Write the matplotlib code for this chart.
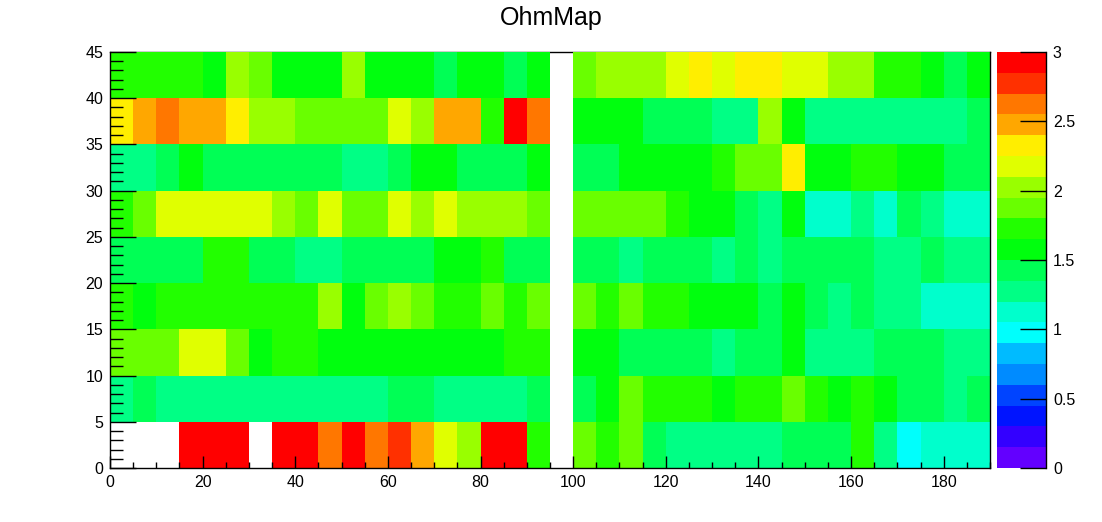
import colorsys
import numpy as np
import matplotlib.pyplot as plt
from matplotlib.colors import ListedColormap, BoundaryNorm
from matplotlib.ticker import MultipleLocator, FuncFormatter

plt.rcParams['font.family'] = ['Liberation Sans', 'DejaVu Sans']

# bin edges
x_edges = np.arange(0, 195, 5)
y_edges = np.arange(0, 50, 5)

n = np.nan
# one list per y row, from y=0 upwards, 38 x bins each
row_0_5 = [n, n, n, 2.92, 2.92, 2.92, n, 2.92, 2.92, 2.62, 2.92, 2.62, 2.77, 2.47, 2.17, 2.02, 2.92, 2.92, 1.72,
           n, 1.87, 1.72, 1.87, 1.42, 1.27, 1.27, 1.27, 1.27, 1.27, 1.42, 1.42, 1.42, 1.72, 1.27, 0.97, 1.12, 1.12, 1.12]
row_5_10 = [1.27, 1.42, 1.27, 1.27, 1.27, 1.27, 1.27, 1.27, 1.27, 1.27, 1.27, 1.27, 1.42, 1.42, 1.27, 1.27, 1.27, 1.27, 1.42,
            n, 1.42, 1.57, 1.87, 1.72, 1.72, 1.72, 1.57, 1.72, 1.72, 1.87, 1.72, 1.57, 1.72, 1.57, 1.42, 1.42, 1.27, 1.42]
row_10_15 = [1.87, 1.87, 1.87, 2.17, 2.17, 1.87, 1.57, 1.72, 1.72, 1.57, 1.57, 1.57, 1.57, 1.57, 1.57, 1.57, 1.57, 1.72, 1.72,
             n, 1.57, 1.57, 1.42, 1.42, 1.42, 1.42, 1.27, 1.42, 1.42, 1.57, 1.27, 1.27, 1.27, 1.42, 1.42, 1.42, 1.27, 1.27]
row_15_20 = [1.72, 1.57, 1.72, 1.72, 1.72, 1.72, 1.72, 1.72, 1.72, 2.02, 1.57, 1.87, 2.02, 1.87, 1.72, 1.72, 1.87, 1.72, 1.87,
             n, 1.87, 1.72, 1.87, 1.72, 1.72, 1.57, 1.57, 1.57, 1.42, 1.57, 1.42, 1.27, 1.42, 1.27, 1.27, 1.12, 1.12, 1.12]
row_20_25 = [1.42, 1.42, 1.42, 1.42, 1.72, 1.72, 1.42, 1.42, 1.27, 1.27, 1.42, 1.42, 1.42, 1.42, 1.57, 1.57, 1.72, 1.42, 1.42,
             n, 1.42, 1.42, 1.27, 1.42, 1.42, 1.42, 1.27, 1.42, 1.27, 1.42, 1.42, 1.42, 1.42, 1.27, 1.27, 1.42, 1.27, 1.27]
row_25_30 = [1.72, 1.87, 2.17, 2.17, 2.17, 2.17, 2.17, 2.02, 1.87, 2.17, 1.87, 1.87, 2.17, 2.02, 2.17, 2.02, 2.02, 2.02, 1.87,
             n, 1.87, 1.87, 1.87, 1.87, 1.72, 1.57, 1.57, 1.42, 1.27, 1.57, 1.12, 1.12, 1.27, 1.12, 1.42, 1.27, 1.12, 1.12]
row_30_35 = [1.27, 1.27, 1.42, 1.57, 1.42, 1.42, 1.42, 1.42, 1.42, 1.42, 1.27, 1.27, 1.42, 1.57, 1.57, 1.42, 1.42, 1.42, 1.57,
             n, 1.42, 1.42, 1.57, 1.57, 1.57, 1.57, 1.72, 1.87, 1.87, 2.32, 1.57, 1.57, 1.72, 1.72, 1.57, 1.57, 1.42, 1.42]
row_35_40 = [2.32, 2.47, 2.62, 2.47, 2.47, 2.32, 2.02, 2.02, 1.87, 1.87, 1.87, 1.87, 2.17, 2.02, 2.47, 2.47, 1.72, 2.92, 2.62,
             n, 1.57, 1.57, 1.57, 1.42, 1.42, 1.42, 1.27, 1.27, 2.02, 1.57, 1.27, 1.27, 1.27, 1.27, 1.27, 1.27, 1.27, 1.42]
row_40_45 = [1.72, 1.72, 1.72, 1.72, 1.57, 2.02, 1.87, 1.57, 1.57, 1.57, 2.02, 1.57, 1.57, 1.57, 1.42, 1.57, 1.57, 1.42, 1.57,
             n, 1.87, 2.02, 2.02, 2.02, 2.17, 2.32, 2.17, 2.32, 2.32, 2.17, 2.17, 2.02, 2.02, 1.72, 1.72, 1.57, 1.42, 1.57]

z = np.array([row_0_5, row_5_10, row_10_15, row_15_20, row_20_25,
              row_25_30, row_30_35, row_35_40, row_40_45])
z = np.ma.masked_invalid(z)

# ROOT "pretty" palette, 50 colours violet -> red, 20 contour levels
ndivz = 20
levels = np.linspace(0, 3, ndivz + 1)
colors = []
for j in range(ndivz):
    i = int((j + 0.99) * 50 / ndivz)
    hue = 280 - (i + 1) * 280 / 50
    colors.append(colorsys.hls_to_rgb(hue / 360, 0.5, 1.0))
cmap = ListedColormap(colors)
norm = BoundaryNorm(levels, cmap.N)

W, H = 1102, 522
fig = plt.figure(figsize=(W / 100, H / 100), dpi=100)
ax = fig.add_axes([110 / W, 1 - 468 / H, 880 / W, 416 / H])

mesh = ax.pcolormesh(x_edges, y_edges, z, cmap=cmap, norm=norm, zorder=1)
ax.set_xlim(0, 190)
ax.set_ylim(0, 45)

ax.spines['top'].set_zorder(0.5)
for s in ax.spines.values():
    s.set_linewidth(1)

ax.xaxis.set_major_locator(MultipleLocator(20))
ax.xaxis.set_minor_locator(MultipleLocator(5))
ax.yaxis.set_major_locator(MultipleLocator(5))
ax.yaxis.set_minor_locator(MultipleLocator(1))
ax.tick_params(axis='x', which='major', direction='in', length=9, width=1, labelsize=11.5, pad=5)
ax.tick_params(axis='x', which='minor', direction='in', length=4.5, width=1)
ax.tick_params(axis='y', which='major', direction='in', length=19, width=1, labelsize=11.5, pad=5)
ax.tick_params(axis='y', which='minor', direction='in', length=9.5, width=1)

fig.text(0.5, 1 - 18 / H, 'OhmMap', ha='center', va='center', fontsize=18)

# palette axis
cax = fig.add_axes([997 / W, 1 - 468 / H, 49 / W, 416 / H])
cb = fig.colorbar(mesh, cax=cax, ticks=np.arange(0, 3.01, 0.5))
cb.outline.set_visible(False)
cax.plot([1, 1], [0, 1], transform=cax.transAxes, color='k', lw=1, clip_on=False)
cax.yaxis.set_major_formatter(FuncFormatter(lambda v, p: '%g' % v))
cax.tick_params(axis='y', which='both', direction='in', length=19, width=1, labelsize=11.5, pad=5)
cax.minorticks_off()

fig.savefig('out.png', dpi=100)
